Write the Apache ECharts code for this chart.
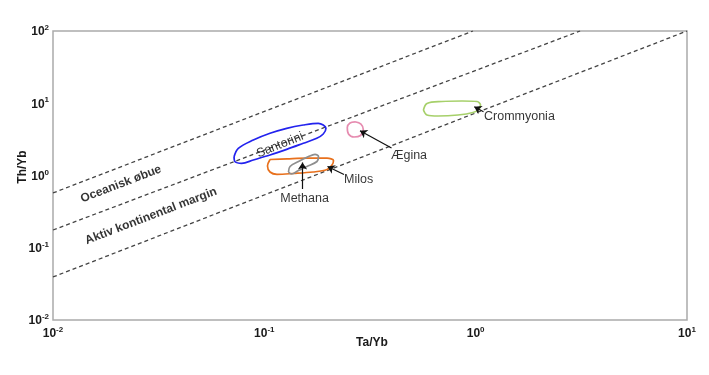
<!DOCTYPE html>
<html>
<head>
<meta charset="utf-8">
<script src="https://cdn.jsdelivr.net/npm/echarts@6/dist/echarts.min.js"></script>
<style>
html,body{margin:0;padding:0;background:#fff;}
#chart{width:709px;height:375px;}
</style>
</head>
<body>
<div id="chart"></div>
<script>
// ---- Data (Ta/Yb, Th/Yb) ----
const xTickExp = [-2, -1, 0, 1];
const yTickExp = [-2, -1, 0, 1, 2];

// reference array boundaries (dashed)
const guideUpper = [[0.01, 0.573], [0.971, 100]];
const guideMiddle = [[0.01, 0.176], [3.12, 100]];
const guideLower = [[0.01, 0.0394], [10, 100]];

// field outlines
const santorini = [[0.0719,1.82],[0.0753,2.38],[0.0887,3.10],[0.1064,3.84],[0.1276,4.50],[0.1529,5.00],[0.180,5.28],[0.1957,4.50],[0.190,3.75],[0.177,3.27],[0.1529,2.79],[0.1276,2.30],[0.1064,1.92],[0.0887,1.64],[0.0781,1.475],[0.0727,1.55]];
const milos = [[0.1064,1.665],[0.128,1.702],[0.1591,1.735],[0.198,1.735],[0.2125,1.613],[0.209,1.397],[0.198,1.21],[0.170,1.118],[0.1367,1.066],[0.1148,1.039],[0.1064,1.118],[0.1035,1.353]];
const methana = [[0.1301,1.118],[0.1323,1.332],[0.1451,1.562],[0.1618,1.832],[0.1737,1.965],[0.1804,1.832],[0.1775,1.562],[0.1591,1.332],[0.1451,1.173],[0.1345,1.049]];
const aegina = [[0.2685,5.54],[0.2866,5.16],[0.2939,4.33],[0.2851,3.58],[0.2656,3.41],[0.2502,3.75],[0.2469,4.62],[0.2543,5.33]];
const crommyonia = [[0.566,8.07],[0.5885,9.92],[0.693,10.57],[0.862,10.74],[1.015,10.57],[1.054,9.46],[1.031,8.19],[0.971,7.45],[0.825,6.88],[0.6636,6.66],[0.5885,6.88]];

// arrows [from, to]
const arrows = [
  [[0.1516, 0.650], [0.1516, 1.514]],
  [[0.2382, 1.032], [0.199, 1.332]],
  [[0.3998, 2.40], [0.2836, 4.17]],
  [[1.089, 7.64], [0.985, 8.96]]
];

// labels
const centerLabels = [{name:'Methana', value:[0.155, 0.473]}, {name:'Ægina', value:[0.4837, 1.88]}];
const leftLabels = [{name:'Milos', value:[0.2382, 0.866]}, {name:'Crommyonia', value:[1.095, 6.56]}];
const santoriniLabel = [{name:'Santorini', value:[0.1186, 2.64]}];
const zoneLabels = [{name:'Oceanisk øbue', value:[0.02098, 0.763]}, {name:'Aktiv kontinental margin', value:[0.0291, 0.275]}];

// ---- Chart ----
const FONT = '"Liberation Sans", Arial, sans-serif';
const closed = a => a.concat([a[0]]);
const chart = echarts.init(document.getElementById('chart'));

function expLabel(v) {
  const e = Math.round(Math.log10(v));
  return '{b|10}{s|' + e + '}';
}
const rich = {
  b: {fontSize: 12, fontWeight: 'bold', color: '#1a1a1a', fontFamily: FONT, lineHeight: 14, verticalAlign: 'bottom'},
  s: {fontSize: 8, fontWeight: 'bold', color: '#1a1a1a', fontFamily: FONT, lineHeight: 14, verticalAlign: 'top', padding: [0,0,6,0]}
};
const plainText = {color:'#000', fontSize:12.5, fontFamily:FONT, textBorderWidth:0, textBorderColor:'transparent', textShadowBlur:0};

function guide(d) {
  return {type:'line', data:d, showSymbol:false, silent:true, z:2,
    lineStyle:{color:'#444', width:1.3, type:[4,3]}};
}
function outline(d, color) {
  return {type:'line', data:closed(d), showSymbol:false, smooth:0.35, silent:true, z:3,
    lineStyle:{color:color, width:1.7}};
}

chart.setOption({
  animation: false,
  backgroundColor: '#fff',
  grid: {left:53, top:31, width:634, height:289, show:true, borderColor:'#aaaaaa', borderWidth:1.5, backgroundColor:'transparent'},
  xAxis: {
    type:'log', logBase:10, min:0.01, max:10,
    axisLine:{show:false}, axisTick:{show:false}, splitLine:{show:false},
    axisLabel:{margin:6, formatter: expLabel, rich: rich, showMinLabel:true, showMaxLabel:true}
  },
  yAxis: {
    type:'log', logBase:10, min:0.01, max:100,
    axisLine:{show:false}, axisTick:{show:false}, splitLine:{show:false},
    axisLabel:{margin:4, formatter: expLabel, rich: rich, showMinLabel:true, showMaxLabel:true}
  },
  graphic: [
    {type:'text', x:23, y:167, rotation:Math.PI/2, style:{text:'Th/Yb', font:'bold 12px ' + FONT, fill:'#1a1a1a', align:'center', verticalAlign:'middle'}},
    {type:'text', x:372, y:343, style:{text:'Ta/Yb', font:'bold 12px ' + FONT, fill:'#1a1a1a', align:'center', verticalAlign:'middle'}}
  ],
  series: [
    guide(guideUpper), guide(guideMiddle), guide(guideLower),
    outline(santorini, '#2323ee'),
    outline(milos, '#e8701c'),
    outline(methana, '#8e8e8e'),
    outline(aegina, '#e68cb0'),
    outline(crommyonia, '#a6d06a'),
    {type:'lines', coordinateSystem:'cartesian2d', silent:true, z:5,
      symbol:['none','arrow'], symbolSize:7,
      lineStyle:{color:'#111', width:1.2, opacity:1},
      data: arrows.map(a => ({coords:a}))},
    {type:'scatter', data:centerLabels, symbolSize:0, silent:true, z:6,
      label:Object.assign({show:true, position:'inside', formatter:'{b}'}, plainText)},
    {type:'scatter', data:leftLabels, symbolSize:0, silent:true, z:6,
      label:Object.assign({show:true, position:'right', distance:0, formatter:'{b}'}, plainText)},
    {type:'scatter', data:santoriniLabel, symbolSize:0, silent:true, z:6,
      label:Object.assign({show:true, position:'inside', rotate:22, formatter:'{b}'}, plainText)},
    {type:'scatter', data:zoneLabels, symbolSize:0, silent:true, z:6,
      label:Object.assign({show:true, position:'inside', rotate:21, formatter:'{b}'}, plainText, {fontSize:12, fontWeight:'bold'})}
  ]
});
</script>
</body>
</html>
